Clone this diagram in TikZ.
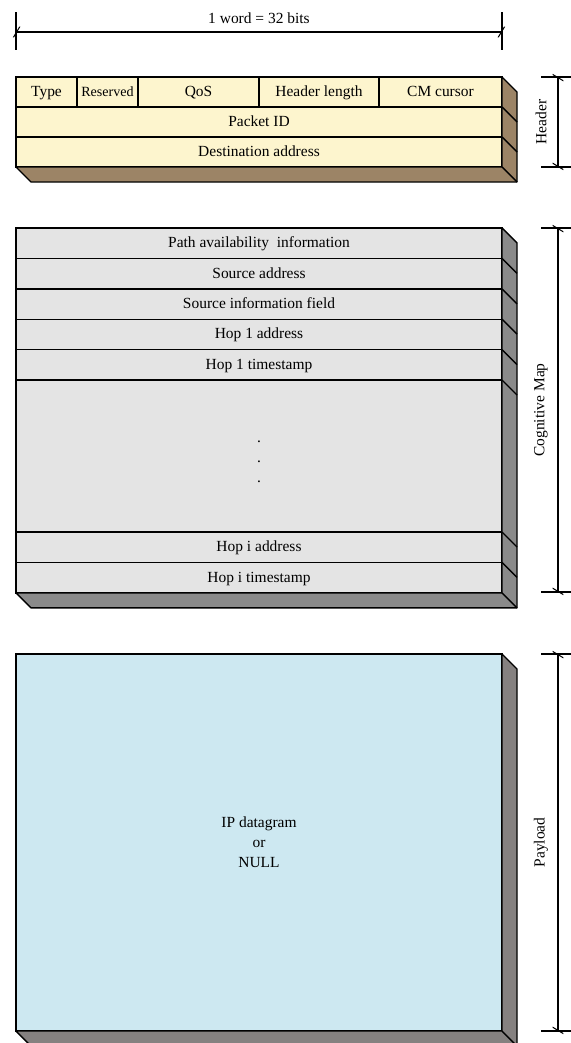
\documentclass[tikz,border=0pt]{standalone}
\usepackage{fontspec}
\setmainfont{Liberation Serif}
\definecolor{hdFace}{HTML}{FDF5CE}
\definecolor{hdSide}{HTML}{9C8466}
\definecolor{cmFace}{HTML}{E4E4E4}
\definecolor{cmSide}{HTML}{8A8A8A}
\definecolor{plFace}{HTML}{CDE8F1}
\definecolor{plSide}{HTML}{858180}
\usetikzlibrary{arrows.meta,positioning,calc}

\begin{document}
\begin{tikzpicture}[
  x=0.2mm,y=-0.2mm,
  font=\fontsize{8.8}{11.4}\selectfont,
  field/.style={draw=black,line width=0.8pt,minimum height=6mm,inner sep=0pt,outer sep=0pt,anchor=north west},
  line/.style={field,text height=1.55ex,text depth=0.45ex},
  hdr/.style={line,fill=hdFace},
  cog/.style={line,fill=cmFace,minimum height=6.08mm},
  side/.style={draw=black,line width=0.8pt,line join=round},
  ext/.style={line width=0.7pt},
  dimline/.style={line width=0.7pt,{Bar[width=6pt,slant=0.6]}-{Bar[width=6pt,slant=0.6]}},
  tag/.style={rotate=90,anchor=center}
]
\useasboundingbox (0,0) rectangle (571,1043);
\def\W{97.2mm}

% header
\foreach \name/\x/\w/\txt in {
  type/16/61/Type,
  res/77/61/{\fontsize{8}{9}\selectfont Reserved},
  qos/138/121/QoS,
  hlen/259/120/Header length,
  cmc/379/123/CM cursor}
{
  \node[hdr,minimum width=\w*0.2mm] (\name) at (\x,77) {\txt};
}
\node[hdr,minimum width=\W] (pid) at (16,107) {Packet ID};
\node[hdr,minimum width=\W] (dst) at (16,137) {Destination address};
\draw[side,fill=hdSide] (cmc.north east) -- ++(15,15) -- ($(dst.south east)+(15,15)$)
  -- ($(dst.south west)+(15,15)$) -- (dst.south west) -- (dst.south east) -- cycle;
\foreach \n in {pid,dst}
  \draw[side] (\n.north east) -- ++(15,15);
\draw[side] (dst.south east) -- ++(15,15);

% cognitive map
\foreach \i/\name/\txt in {
  0/pai/Path availability\ \ information,
  1/src/Source address,
  2/sif/Source information field,
  3/hoa/Hop 1 address,
  4/hot/Hop 1 timestamp}
{
  \node[cog,minimum width=\W] (\name) at (16,{228+\i*30.4}) {\txt};
}
\node[field,fill=cmFace,minimum width=\W,minimum height=30.4mm] (gap) at (16,380) {};
\node[align=center,inner sep=0pt] (dots) at ($(gap.center)+(0,6)$) {.\\.\\.};
\node[cog,minimum width=\W] (hia) at (16,532) {Hop i address};
\node[cog,minimum width=\W] (hit) at (16,562.4) {Hop i timestamp};
\draw[side,fill=cmSide] (pai.north east) -- ++(15,15) -- ($(hit.south east)+(15,15)$)
  -- ($(hit.south west)+(15,15)$) -- (hit.south west) -- (hit.south east) -- cycle;
\foreach \n in {src,sif,hoa,hot,gap,hia,hit}
  \draw[side] (\n.north east) -- ++(15,15);
\draw[side] (hit.south east) -- ++(15,15);

% payload
\node[field,fill=plFace,minimum width=\W,minimum height=75.4mm,align=center] (pay) at (16,654)
  {IP datagram\\or\\NULL};
\draw[side,fill=plSide] (pay.north east) -- ++(15,15) -- ($(pay.south east)+(15,15)$)
  -- ($(pay.south west)+(15,15)$) -- (pay.south west) -- (pay.south east) -- cycle;
\draw[side] (pay.south east) -- ++(15,15);

% word width
\coordinate (wl) at (16,32);
\coordinate (wr) at (502,32);
\draw[ext] (wl) ++(0,-20) -- ++(0,38);
\draw[ext] (wr) ++(0,-20) -- ++(0,38);
\draw[dimline] (wl) -- (wr);
\node (wlbl) at (259,18) {1 word = 32 bits};

% section spans
\foreach \name/\top/\bot/\txt in {
  hd/77/167/Header,
  cm/228/592/Cognitive Map,
  pl/654/1031/Payload}
{
  \coordinate (\name T) at (558,\top);
  \coordinate (\name B) at (558,\bot);
  \draw[ext] (\name T) ++(-17,0) -- ++(30,0);
  \draw[ext] (\name B) ++(-17,0) -- ++(30,0);
  \draw[dimline] (\name T) -- (\name B);
  \node[tag] (\name lbl) at (541,{(\top+\bot)/2}) {\txt};
}
\end{tikzpicture}
\end{document}
